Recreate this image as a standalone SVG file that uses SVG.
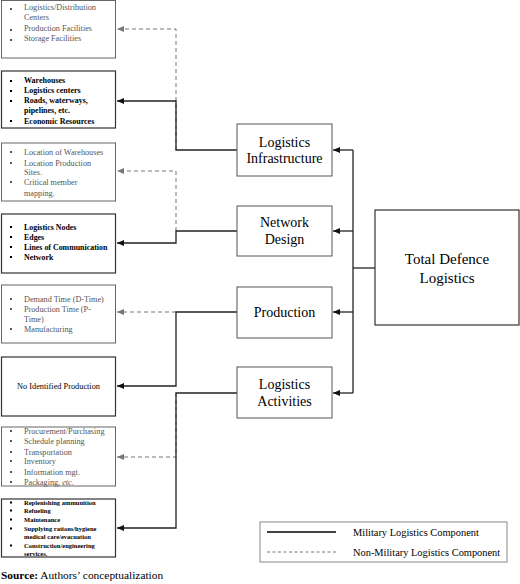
<svg xmlns="http://www.w3.org/2000/svg" width="520" height="584" viewBox="0 0 520 584">
<style>
text{font-family:"Liberation Serif","Times New Roman",serif}
.lb{fill:#fff;stroke:#333;stroke-width:1.2}
.lbg{fill:#fff;stroke:#666;stroke-width:1}
.mb{fill:#fff;stroke:#555;stroke-width:1}
.tg{font-size:8.2px;fill:#555}
.tb{font-size:8px;fill:#000;font-weight:bold}
.ts{font-size:6.5px;fill:#000;font-weight:bold}
.tm{font-size:14px;fill:#000;text-anchor:middle}
.bg{fill:#555}
.bk{fill:#000}
.sol{fill:none;stroke:#222;stroke-width:1.3}
.das{fill:none;stroke:#777;stroke-width:1;stroke-dasharray:4 3}
</style>
<defs>
<marker id="ab" markerWidth="7" markerHeight="6" refX="7" refY="3" orient="auto" markerUnits="userSpaceOnUse"><path d="M0,0 L7,3 L0,6 Z" fill="#111"/></marker>
<marker id="ag" markerWidth="7" markerHeight="6" refX="7" refY="3" orient="auto" markerUnits="userSpaceOnUse"><path d="M0,0 L7,3 L0,6 Z" fill="#777"/></marker>
</defs>

<g id="connectors">
<path class="das" d="M176,150 V29 H117" marker-end="url(#ag)"/>
<path class="das" d="M176,231 V171 H117" marker-end="url(#ag)"/>
<path class="das" d="M176,312 H117" marker-end="url(#ag)"/>
<path class="das" d="M176,393 V457 H117" marker-end="url(#ag)"/>
<path class="sol" d="M237,150 H176 V101 H117" marker-end="url(#ab)"/>
<path class="sol" d="M237,231 H176 V243 H117" marker-end="url(#ab)"/>
<path class="sol" d="M237,312 H176 V386 H117" marker-end="url(#ab)"/>
<path class="sol" d="M237,393 H176 V528 H117" marker-end="url(#ab)"/>
<path class="sol" d="M375,268 H353"/>
<path class="sol" d="M353,150 V393"/>
<path class="sol" d="M353,150 H333" marker-end="url(#ab)"/>
<path class="sol" d="M353,231 H333" marker-end="url(#ab)"/>
<path class="sol" d="M353,312 H333" marker-end="url(#ab)"/>
<path class="sol" d="M353,393 H333" marker-end="url(#ab)"/>
</g>

<g id="box1">
<rect class="lbg" x="1.5" y="0.5" width="114" height="57.5"/>
<rect class="bg" x="10" y="8" width="2" height="2"/>
<rect class="bg" x="10" y="29" width="2" height="2"/>
<rect class="bg" x="10" y="39" width="2" height="2"/>
<text class="tg" x="24" y="10">Logistics/Distribution</text>
<text class="tg" x="24" y="20">Centers</text>
<text class="tg" x="24" y="31">Production Facilities</text>
<text class="tg" x="24" y="41">Storage Facilities</text>
</g>

<g id="box2">
<rect class="lb" x="1.5" y="71" width="114" height="57"/>
<rect class="bk" x="10" y="80" width="2" height="2"/>
<rect class="bk" x="10" y="90" width="2" height="2"/>
<rect class="bk" x="10" y="100" width="2" height="2"/>
<rect class="bk" x="10" y="120" width="2" height="2"/>
<text class="tb" x="24" y="83">Warehouses</text>
<text class="tb" x="24" y="93">Logistics centers</text>
<text class="tb" x="24" y="103">Roads, waterways,</text>
<text class="tb" x="24" y="113">pipelines, etc.</text>
<text class="tb" x="24" y="124">Economic Resources</text>
</g>

<g id="box3">
<rect class="lbg" x="1.5" y="143" width="114" height="58"/>
<rect class="bg" x="10" y="151" width="2" height="2"/>
<rect class="bg" x="10" y="162" width="2" height="2"/>
<rect class="bg" x="10" y="181" width="2" height="2"/>
<text class="tg" x="24" y="155">Location of Warehouses</text>
<text class="tg" x="24" y="166">Location Production</text>
<text class="tg" x="24" y="175">Sites.</text>
<text class="tg" x="24" y="185">Critical member</text>
<text class="tg" x="24" y="196">mapping.</text>
</g>

<g id="box4">
<rect class="lb" x="1.5" y="214" width="114" height="59"/>
<rect class="bk" x="10" y="226" width="2" height="2"/>
<rect class="bk" x="10" y="236" width="2" height="2"/>
<rect class="bk" x="10" y="246" width="2" height="2"/>
<rect class="bk" x="10" y="256" width="2" height="2"/>
<text class="tb" x="24" y="230" style="font-size:7.9px">Logistics Nodes</text>
<text class="tb" x="24" y="240" style="font-size:7.9px">Edges</text>
<text class="tb" x="24" y="250" style="font-size:7.9px">Lines of Communication</text>
<text class="tb" x="24" y="260" style="font-size:7.9px">Network</text>
</g>

<g id="box5">
<rect class="lbg" x="1.5" y="285" width="114" height="58"/>
<rect class="bg" x="10" y="298" width="2" height="2"/>
<rect class="bg" x="10" y="308" width="2" height="2"/>
<rect class="bg" x="10" y="328" width="2" height="2"/>
<text class="tg" x="24" y="302">Demand Time (D-Time)</text>
<text class="tg" x="24" y="312">Production Time (P-</text>
<text class="tg" x="24" y="322">Time)</text>
<text class="tg" x="24" y="332">Manufacturing</text>
</g>

<g id="box6">
<rect class="lb" x="1.5" y="357" width="114" height="59"/>
<text x="58.5" y="389" style="font-size:8.3px;text-anchor:middle;fill:#000">No Identified Production</text>
</g>

<g id="box7">
<rect class="lbg" x="1.5" y="427" width="114" height="59"/>
<rect class="bg" x="10" y="430" width="2" height="2"/>
<rect class="bg" x="10" y="440" width="2" height="2"/>
<rect class="bg" x="10" y="451" width="2" height="2"/>
<rect class="bg" x="10" y="460" width="2" height="2"/>
<rect class="bg" x="10" y="471" width="2" height="2"/>
<rect class="bg" x="10" y="481" width="2" height="2"/>
<text class="tg" x="24" y="434">Procurement/Purchasing</text>
<text class="tg" x="24" y="444">Schedule planning</text>
<text class="tg" x="24" y="455">Transportation</text>
<text class="tg" x="24" y="464">Inventory</text>
<text class="tg" x="24" y="475">Information mgt.</text>
<text class="tg" x="24" y="485">Packaging, <tspan font-style="italic">etc.</tspan></text>
</g>

<g id="box8">
<rect class="lb" x="1.5" y="499" width="114" height="58"/>
<rect class="bk" x="10" y="501.5" width="2" height="2"/>
<rect class="bk" x="10" y="509.5" width="2" height="2"/>
<rect class="bk" x="10" y="518.5" width="2" height="2"/>
<rect class="bk" x="10" y="527.5" width="2" height="2"/>
<rect class="bk" x="10" y="544.5" width="2" height="2"/>
<text class="ts" x="24" y="504.5">Replenishing ammunition</text>
<text class="ts" x="24" y="512.5">Refueling</text>
<text class="ts" x="24" y="521.5">Maintenance</text>
<text class="ts" x="24" y="530.5">Supplying rations/hygiene</text>
<text class="ts" x="24" y="538.5">medical care/evacuation</text>
<text class="ts" x="24" y="547.5">Construction/engineering</text>
<text class="ts" x="24" y="555.5">services.</text>
</g>

<g id="logistics-infrastructure">
<rect class="mb" x="237" y="124" width="95" height="52"/>
<text class="tm" x="284.5" y="146.5">Logistics</text>
<text class="tm" x="284.5" y="163">Infrastructure</text>
</g>

<g id="network-design">
<rect class="mb" x="237" y="206" width="95" height="50"/>
<text class="tm" x="284.5" y="227">Network</text>
<text class="tm" x="284.5" y="244">Design</text>
</g>

<g id="production">
<rect class="mb" x="237" y="287" width="95" height="51"/>
<text class="tm" x="284.5" y="317">Production</text>
</g>

<g id="logistics-activities">
<rect class="mb" x="237" y="367" width="95" height="51"/>
<text class="tm" x="284.5" y="389">Logistics</text>
<text class="tm" x="284.5" y="406">Activities</text>
</g>

<g id="total-defence-logistics">
<rect class="lb" x="375" y="210" width="144" height="115"/>
<text class="tm" x="447" y="264" style="font-size:15px">Total Defence</text>
<text class="tm" x="447" y="283" style="font-size:15px">Logistics</text>
</g>

<g id="legend">
<rect x="260" y="522" width="247" height="40" fill="#fff" stroke="#888" stroke-width="1"/>
<line x1="267" y1="532" x2="336" y2="532" stroke="#000" stroke-width="1.6"/>
<line x1="267" y1="552" x2="336" y2="552" stroke="#777" stroke-width="1" stroke-dasharray="3 2.5"/>
<text x="353" y="535.5" style="font-size:10.4px">Military Logistics Component</text>
<text x="353" y="555.5" style="font-size:10.4px">Non-Military Logistics Component</text>
</g>

<text x="1" y="579" style="font-size:11.4px"><tspan font-weight="bold">Source:</tspan> Authors’ conceptualization</text>
</svg>
